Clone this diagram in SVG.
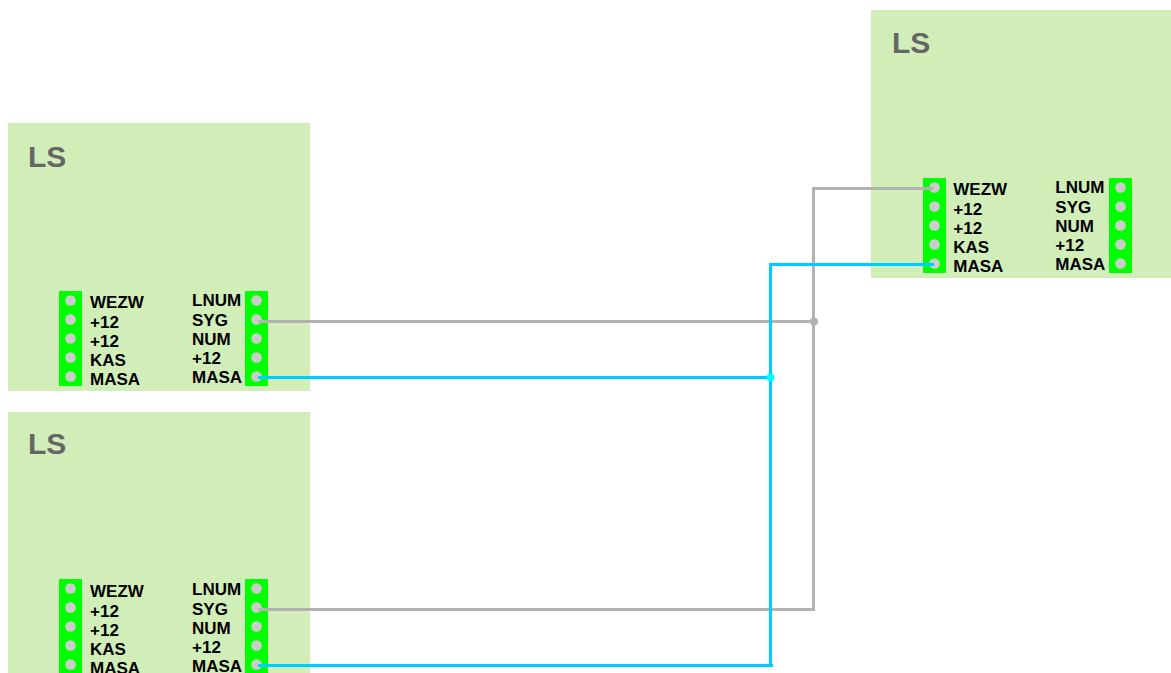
<svg xmlns="http://www.w3.org/2000/svg" width="1171" height="673" viewBox="0 0 1171 673">
<style>
.b{fill:#d1eeb9}
.c{fill:#00ff00}
.d{fill:#cccccc}
text{font-family:"Liberation Sans",Arial,sans-serif;font-weight:bold;fill:#000;font-size:17px}
text.t{font-size:30px;fill:#666666}
.g{fill:none;stroke:#b2b2b2;stroke-width:3}
.u{fill:none;stroke:#00ccff;stroke-width:3}
</style>
<defs>
<g id="strip"><rect class="c" x="0" y="0" width="23" height="95"/><circle class="d" cx="11.500" cy="9.500" r="5.300"/><circle class="d" cx="11.500" cy="28.500" r="5.300"/><circle class="d" cx="11.500" cy="47.500" r="5.300"/><circle class="d" cx="11.500" cy="66.500" r="5.300"/><circle class="d" cx="11.500" cy="85.500" r="5.300"/></g>
<g id="labels">
<text x="0" y="5.500">WEZW</text><text x="0" y="25.500">+12</text><text x="0" y="44.500">+12</text><text x="0" y="63.500">KAS</text><text x="0" y="82.500">MASA</text>
<text x="102" y="3.500">LNUM</text><text x="102" y="23.500">SYG</text><text x="102" y="42.500">NUM</text><text x="102" y="62">+12</text><text x="102" y="80.500">MASA</text>
</g>
</defs>
<g id="node-ls-1"><rect class="b" x="8" y="123" width="302" height="268"/><text class="t" x="28" y="167">LS</text><use href="#strip" x="59" y="291"/><use href="#strip" x="245" y="291"/><use href="#labels" x="90" y="302"/></g>
<g id="node-ls-2"><rect class="b" x="8" y="412" width="302" height="261"/><text class="t" x="28" y="454">LS</text><use href="#strip" x="59" y="579"/><use href="#strip" x="245" y="579"/><use href="#labels" x="90" y="591"/></g>
<g id="node-ls-3"><rect class="b" x="871" y="10" width="300" height="268"/><text class="t" x="892" y="53">LS</text><use href="#strip" x="923" y="178"/><use href="#strip" x="1109" y="178"/><use href="#labels" x="953.300" y="189"/></g>
<g id="connectors">
<path class="g" d="M258 321.500H813.500"/>
<path class="g" d="M933 188.500H813.500V609.500H258"/>
<circle cx="814" cy="321.500" r="4" fill="#b2b2b2"/>
<path class="u" d="M258 377.500H770.500"/>
<path class="u" d="M934 264.500H770.500V665.500H258"/>
<circle cx="770.500" cy="377.500" r="4" fill="#00ffff"/>
<path class="u" d="M770 665.500H773"/>
</g>
</svg>
